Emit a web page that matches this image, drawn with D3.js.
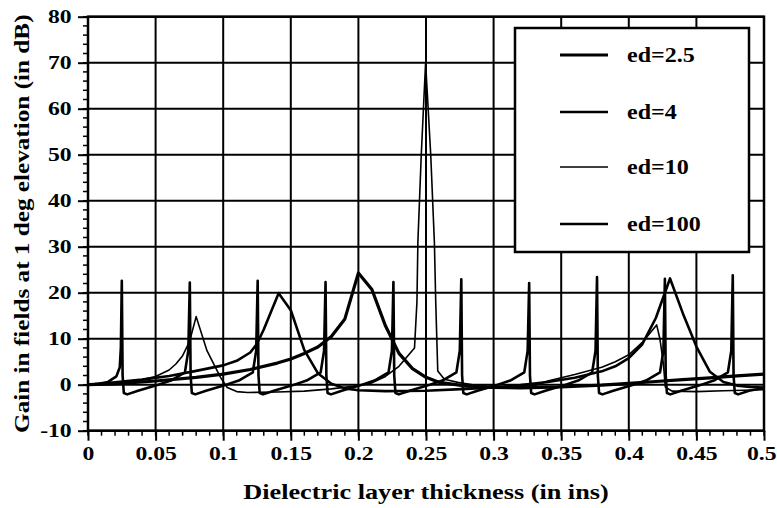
<!DOCTYPE html>
<html>
<head>
<meta charset="utf-8">
<script src="https://cdn.jsdelivr.net/npm/d3@7/dist/d3.min.js"></script>
<style>
  html, body { margin: 0; padding: 0; background: #fff; }
  svg { display: block; }
  text { font-family: "Liberation Serif", "Times New Roman", serif; font-weight: bold; fill: #000; }
</style>
</head>
<body>
<svg id="chart" width="777" height="508"></svg>
<script>
// Gain (dB) at 1 degree elevation versus dielectric layer thickness (inches)
const xTicks = [0, 0.05, 0.1, 0.15, 0.2, 0.25, 0.3, 0.35, 0.4, 0.45, 0.5];
const xTickLabels = ["0", "0.05", "0.1", "0.15", "0.2", "0.25", "0.3", "0.35", "0.4", "0.45", "0.5"];
const yTicks = [-10, 0, 10, 20, 30, 40, 50, 60, 70, 80];
const yTickLabels = ["-10", "0", "10", "20", "30", "40", "50", "60", "70", "80"];

const seriesNames = ["ed=2.5", "ed=4", "ed=10", "ed=100"];

const ed2_5 = [
  [0, 0], [0.02, 0.2], [0.05, 0.8], [0.08, 1.6], [0.1, 2.3], [0.12, 3.3], [0.14, 4.7],
  [0.15, 5.6], [0.16, 6.8], [0.17, 8.2], [0.18, 10.5], [0.19, 14.3], [0.2, 24.3],
  [0.21, 20.7], [0.22, 12.8], [0.23, 6.8], [0.24, 3.5], [0.25, 1.6], [0.26, 0.5],
  [0.28, -0.3], [0.3, -0.6], [0.32, -0.7], [0.35, -0.5], [0.38, -0.1], [0.4, 0.3],
  [0.42, 0.7], [0.44, 1.1], [0.46, 1.5], [0.48, 1.9], [0.5, 2.3]
];

const ed4 = [
  [0, 0], [0.02, 0.5], [0.04, 1.1], [0.06, 1.9], [0.08, 3.0], [0.1, 4.2], [0.11, 5.2],
  [0.12, 7.0], [0.125, 8.9], [0.13, 12.0], [0.141, 19.9], [0.15, 16.2], [0.16, 7.5],
  [0.17, 2.5], [0.18, 0.2], [0.19, -0.8], [0.2, -1.2], [0.22, -1.4], [0.25, -1.3],
  [0.28, -0.9], [0.3, -0.6], [0.32, -0.1], [0.34, 0.6], [0.36, 1.5], [0.38, 2.9],
  [0.39, 4.0], [0.4, 5.8], [0.41, 8.8], [0.42, 14.5], [0.4305, 23.1], [0.44, 15.5],
  [0.45, 8.3], [0.46, 2.8], [0.47, 0.6], [0.48, -0.2], [0.49, -0.5], [0.5, -0.6]
];

const ed10 = [
  [0, 0], [0.02, 0.4], [0.04, 1.1], [0.05, 1.8], [0.06, 3.2], [0.065, 4.5], [0.07, 6.3],
  [0.075, 9.3], [0.08, 14.8], [0.088, 7.4], [0.098, 1.6], [0.103, -0.6], [0.11, -1.5],
  [0.118, -1.7], [0.14, -1.6], [0.16, -1.4], [0.18, -0.9], [0.2, -0.2], [0.21, 0.4],
  [0.22, 1.8], [0.23, 4.0], [0.2415, 8.0], [0.2433, 18], [0.244, 31], [0.2465, 50],
  [0.2497, 70], [0.2535, 50], [0.2562, 31], [0.2572, 18], [0.2587, 3.0], [0.2636, 1.2],
  [0.2735, 0.5], [0.29, -0.3], [0.31, -0.6], [0.33, -0.2], [0.34, 0.8], [0.36, 2.2],
  [0.38, 3.8], [0.39, 5.0], [0.4, 6.5], [0.41, 9.2], [0.4206, 13.0], [0.423, 10.0],
  [0.4256, 4.5], [0.427, -0.5], [0.432, -1.4], [0.45, -1.5], [0.47, -1.3], [0.5, -1.1]
];

const ed100 = [
  [0, 0], [0.008, 0.2], [0.0148, 0.6], [0.021, 1.8], [0.0235, 3.8], [0.0243, 8], [0.025, 22.6],
  [0.0256, 2], [0.0265, -1.8], [0.029, -2.1], [0.037, -1.3], [0.05, -0.2],
  [0.0613, 0.9], [0.0717, 2.7], [0.0742, 7.4], [0.0753, 22.2], [0.0759, 2], [0.0768, -1.8],
  [0.0793, -2.1], [0.0873, -1.3], [0.1003, -0.2],
  [0.1115, 0.9], [0.1219, 2.7], [0.1244, 7.4], [0.1255, 22.6], [0.1261, 2], [0.127, -1.8],
  [0.1295, -2.1], [0.1375, -1.3], [0.1505, -0.2],
  [0.1617, 0.9], [0.1721, 2.7], [0.1746, 7.4], [0.1757, 22.3], [0.1763, 2], [0.1772, -1.8],
  [0.1797, -2.1], [0.1877, -1.3], [0.2007, -0.2],
  [0.2119, 0.9], [0.2223, 2.7], [0.2248, 7.4], [0.2259, 22.3], [0.2265, 2], [0.2274, -1.8],
  [0.2299, -2.1], [0.2379, -1.3], [0.2509, -0.2],
  [0.2621, 0.9], [0.2725, 2.7], [0.275, 7.4], [0.2761, 22.9], [0.2767, 2], [0.2776, -1.8],
  [0.2801, -2.1], [0.2881, -1.3], [0.3011, -0.2],
  [0.3123, 0.9], [0.3227, 2.7], [0.3252, 7.4], [0.3263, 22.1], [0.3269, 2], [0.3278, -1.8],
  [0.3303, -2.1], [0.3383, -1.3], [0.3513, -0.2],
  [0.3625, 0.9], [0.3729, 2.7], [0.3754, 7.4], [0.3765, 23.4], [0.3771, 2], [0.378, -1.8],
  [0.3805, -2.1], [0.3885, -1.3], [0.4015, -0.2],
  [0.4127, 0.9], [0.4231, 2.7], [0.4256, 7.4], [0.4267, 23.0], [0.4273, 2], [0.4282, -1.8],
  [0.4307, -2.1], [0.4387, -1.3], [0.4517, -0.2],
  [0.4629, 0.9], [0.4733, 2.7], [0.4758, 7.4], [0.4769, 23.8], [0.4775, 2], [0.4784, -1.8],
  [0.4809, -2.1], [0.4889, -1.3], [0.5, -0.7]
];

const seriesData = [ed2_5, ed4, ed10, ed100];
const seriesWidths = [3.2, 2.6, 1.6, 2.6];

const svg = d3.select("#chart");
const plotLeft = 88, plotRight = 764, plotTop = 16.7, plotBottom = 430.7;

// the lettering is set wide: glyphs are stretched along the writing direction
const tickStretch = 1.28, titleStretch = 1.2, legendStretch = 1.2;

const x = d3.scaleLinear().domain([0, 0.5]).range([plotLeft, plotRight]);
const y = d3.scaleLinear().domain([-10, 80]).range([plotBottom, plotTop]);

// grid
const grid = svg.append("g").attr("stroke", "#000").attr("stroke-width", 2);
grid.selectAll("line.v").data(xTicks).join("line")
  .attr("x1", d => x(d)).attr("x2", d => x(d))
  .attr("y1", plotTop).attr("y2", plotBottom);
grid.selectAll("line.h").data(yTicks).join("line")
  .attr("y1", d => y(d)).attr("y2", d => y(d))
  .attr("x1", plotLeft).attr("x2", plotRight);

// minor ticks
const yMinor = d3.range(-10, 80.001, 2);
const xMinor = d3.range(0, 0.5001, 0.01);
svg.append("g").attr("stroke", "#000").attr("stroke-width", 1.5)
  .selectAll("line").data(yMinor).join("line")
  .attr("x1", plotLeft - 5).attr("x2", plotLeft)
  .attr("y1", d => y(d)).attr("y2", d => y(d));
svg.append("g").attr("stroke", "#000").attr("stroke-width", 1.5)
  .selectAll("line").data(xMinor).join("line")
  .attr("y1", plotBottom).attr("y2", plotBottom + 5)
  .attr("x1", d => x(d)).attr("x2", d => x(d));

// axes
const yAxis = d3.axisLeft(y).tickValues(yTicks).tickSize(10).tickPadding(6)
  .tickFormat((d, i) => yTickLabels[i]);
const gy = svg.append("g").attr("transform", `translate(${plotLeft},0)`).call(yAxis);
gy.select(".domain").remove();
gy.selectAll(".tick line").attr("stroke", "#000").attr("stroke-width", 2);
gy.selectAll(".tick text").attr("font-size", 18.5).attr("font-family", null)
  .attr("dy", "0.34em")
  .attr("x", -16.3 / tickStretch)
  .attr("transform", `scale(${tickStretch},1)`);

const xAxis = d3.axisBottom(x).tickValues(xTicks).tickSize(10).tickPadding(6)
  .tickFormat((d, i) => xTickLabels[i]);
const gx = svg.append("g").attr("transform", `translate(0,${plotBottom})`).call(xAxis);
gx.select(".domain").remove();
gx.selectAll(".tick line").attr("stroke", "#000").attr("stroke-width", 2);
gx.selectAll(".tick text").attr("font-size", 18.5).attr("font-family", null)
  .attr("transform", `scale(${tickStretch},1)`);
// keep the last label inside the canvas, flush with its right edge
gx.selectAll(".tick text").filter((d, i) => i === xTicks.length - 1)
  .attr("text-anchor", "end")
  .attr("x", (776 - x(0.5)) / tickStretch);

// frame
svg.append("rect").attr("x", plotLeft).attr("y", plotTop)
  .attr("width", plotRight - plotLeft).attr("height", plotBottom - plotTop)
  .attr("fill", "none").attr("stroke", "#000").attr("stroke-width", 2.5);

// curves
const line = d3.line().x(d => x(d[0])).y(d => y(d[1]));
svg.append("g").selectAll("path").data(seriesData).join("path")
  .attr("d", line)
  .attr("fill", "none").attr("stroke", "#000")
  .attr("stroke-width", (d, i) => seriesWidths[i])
  .attr("stroke-linejoin", "round");

// axis titles
svg.append("text")
  .attr("transform", `translate(${(plotLeft + plotRight) / 2},499) scale(1.25,1)`)
  .attr("text-anchor", "middle").attr("font-size", 21)
  .text("Dielectric layer thickness (in ins)");
svg.append("text")
  .attr("transform", `translate(29,${(plotTop + plotBottom) / 2}) rotate(-90) scale(${titleStretch},1)`)
  .attr("text-anchor", "middle").attr("font-size", 21)
  .text("Gain in fields at 1 deg elevation (in dB)");

// legend
const legend = svg.append("g");
legend.append("rect").attr("x", 515).attr("y", 28).attr("width", 234).attr("height", 224)
  .attr("fill", "#fff").attr("stroke", "#000").attr("stroke-width", 2.5);
const legendY = [55, 112, 167, 224];
const items = legend.selectAll("g.item").data(seriesNames).join("g")
  .attr("transform", (d, i) => `translate(0,${legendY[i]})`);
items.append("line").attr("x1", 560).attr("x2", 608).attr("y1", 0).attr("y2", 0)
  .attr("stroke", "#000").attr("stroke-width", (d, i) => seriesWidths[i]);
items.append("text")
  .attr("transform", `translate(627,7) scale(${legendStretch},1)`)
  .attr("font-size", 20)
  .text(d => d);
</script>
</body>
</html>
